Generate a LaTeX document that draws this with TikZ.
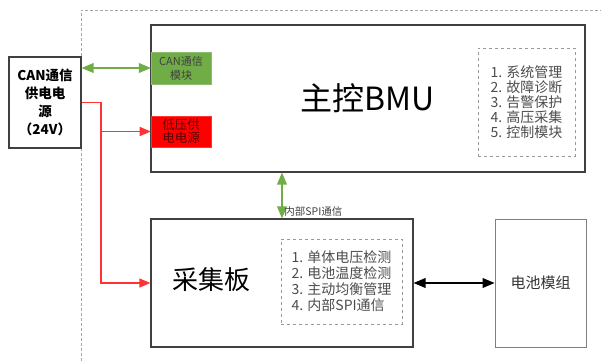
\documentclass[tikz,border=0pt]{standalone}
\usepackage{fontspec}
\setmainfont{Noto Sans CJK SC}
\usetikzlibrary{arrows}
\definecolor{grn}{HTML}{70AD47}
\definecolor{rd}{HTML}{FF0000}
\definecolor{rln}{HTML}{FF3333}

\begin{document}
\begin{tikzpicture}[x=1pt,y=-1pt,
  box/.style={draw=black!75,line width=1.2pt,inner sep=0pt},
  lst/.style={draw=black!40,dashed,line width=0.8pt,inner sep=0pt,text=black!70,align=left},
  gline/.style={grn,line width=1.8pt},
  rline/.style={rln,line width=1.6pt},
  bline/.style={black,line width=1.8pt}]
\useasboundingbox (0,0) rectangle (601,361);
\draw[black!35,densely dashed,line width=0.6pt] (81,361) |- (601,10);
\node[box,minimum width=72pt,minimum height=91pt,align=center,
  font=\fontsize{13.5}{18}\selectfont\bfseries] (pwr) at (45,102.5) {CAN通信\\供电电\\源\\（24V）};
\node[box,minimum width=434pt,minimum height=147pt,font=\fontsize{32}{32}\selectfont] (bmu) at (368,98.5) {主控BMU};
\node[fill=grn,draw=grn!80,inner sep=0pt,minimum width=60pt,minimum height=32pt,align=center,
  text=black!75,font=\fontsize{11}{14}\selectfont] (can) at (181,68) {CAN通信\\模块};
\node[fill=rd,draw=rd!80,inner sep=0pt,minimum width=60pt,minimum height=31pt,align=center,
  text=rd!35!black,font=\fontsize{12.5}{13}\selectfont] (low) at (181,131.5) {低压供\\电电源};
\node[lst,minimum width=97pt,minimum height=108pt,font=\fontsize{14}{15}\selectfont] (bmul) at (526.5,102)
  {1. 系统管理\\2. 故障诊断\\3. 告警保护\\4. 高压采集\\5. 控制模块};
\node[box,minimum width=262pt,minimum height=128pt] (board) at (282,283) {};
\node[font=\fontsize{26}{26}\selectfont] (boardt) at (211,280) {采集板};
\node[lst,minimum width=121pt,minimum height=85pt,font=\fontsize{14}{16}\selectfont] (boardl) at (341.5,281.5)
  {1. 单体电压检测\\2. 电池温度检测\\3. 主动均衡管理\\4. 内部SPI通信};
\node[draw=black!50,line width=1pt,inner sep=0pt,minimum width=91pt,minimum height=128pt,
  text=black!80,font=\fontsize{15}{15}\selectfont] (batt) at (540.5,283) {电池模组};
% connectors
\draw[gline,triangle 45-triangle 45] (pwr.east |- can.west) -- (can.west);
\draw[gline,triangle 45-triangle 45] (board.north |- bmu.south) -- (board.north)
  node[anchor=south west,inner sep=1.5pt,text=black!75,font=\fontsize{10.5}{11}\selectfont] (spi) {内部SPI通信};
\coordinate (j) at (101,101);
\draw[rline,-triangle 45] (pwr.east) -| (j |- board.west) -- (board.west);
\draw[rline,-triangle 45] (j |- low.west) -- (low.west);
\draw[bline,triangle 45-triangle 45] (board.east) -- (batt.west);
\end{tikzpicture}
\end{document}
